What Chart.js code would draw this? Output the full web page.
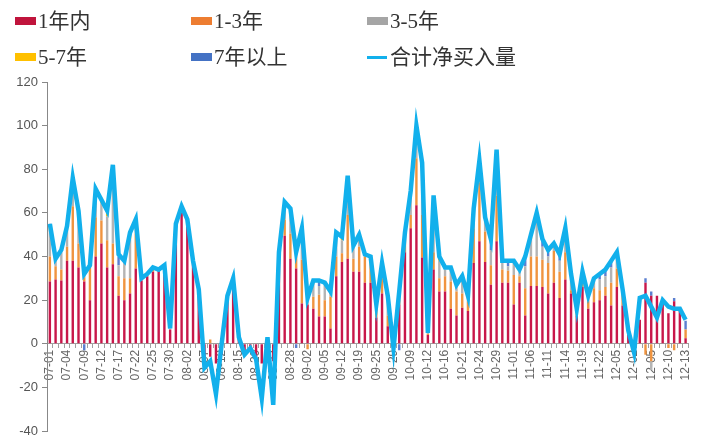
<!DOCTYPE html>
<html>
<head>
<meta charset="utf-8">
<script src="https://cdn.jsdelivr.net/npm/chart.js@4.4.0/dist/chart.umd.min.js"></script>
<style>
  body { margin: 0; background: #fff; }
  #caja { position: relative; width: 702px; height: 446px; }
  #grafico { position: absolute; left: 0; top: 0; }
  .ley { position: absolute; font-family: "Liberation Serif", "Noto Sans CJK SC", serif; font-size: 21px; color: #333; line-height: 22px; white-space: nowrap; }
  .cuadro { position: absolute; width: 21px; height: 8px; }
  .linea { position: absolute; width: 20px; height: 3px; }
</style>
</head>
<body>
<div id="caja">
  <canvas id="grafico" width="702" height="446"></canvas>
  <div class="cuadro" style="left:15px;top:17px;background:#C0143C"></div>
  <div class="ley" style="left:38px;top:10px">1年内</div>
  <div class="cuadro" style="left:191px;top:17px;background:#ED7D31"></div>
  <div class="ley" style="left:214px;top:10px">1-3年</div>
  <div class="cuadro" style="left:367px;top:17px;background:#A5A5A5"></div>
  <div class="ley" style="left:390px;top:10px">3-5年</div>
  <div class="cuadro" style="left:15px;top:53px;background:#FFC000"></div>
  <div class="ley" style="left:38px;top:46px">5-7年</div>
  <div class="cuadro" style="left:191px;top:53px;background:#4472C4"></div>
  <div class="ley" style="left:214px;top:46px">7年以上</div>
  <div class="linea" style="left:367px;top:56px;background:#12B0EC"></div>
  <div class="ley" style="left:390px;top:46px">合计净买入量</div>
</div>
<script>
// Fechas (días hábiles)
const fechas = [
  '07-01','07-02','07-03', '07-04','07-05','07-08', '07-09','07-10','07-11', '07-12','07-15','07-16',
  '07-17','07-18','07-19', '07-22','07-23','07-24', '07-25','07-26','07-29', '07-30','07-31','08-01',
  '08-02','08-05','08-06', '08-07','08-08','08-09', '08-12','08-13','08-14', '08-15','08-16','08-19',
  '08-20','08-21','08-22', '08-23','08-26','08-27', '08-28','08-29','08-30', '09-02','09-03','09-04',
  '09-05','09-09','09-11', '09-12','09-17','09-18', '09-19','09-20','09-24', '09-25','09-26','09-27',
  '09-29','09-30','10-08', '10-09','10-10','10-11', '10-12','10-14','10-15', '10-16','10-17','10-18',
  '10-21','10-22','10-23', '10-24','10-25','10-28', '10-29','10-30','10-31', '11-01','11-04','11-05',
  '11-06','11-07','11-08', '11-11','11-12','11-13', '11-14','11-15','11-18', '11-19','11-20','11-21',
  '11-22','11-25','11-26', '12-05','11-28','11-29', '12-02','12-03','12-04', '12-05','12-06','12-09',
  '12-10','12-11','12-12', '12-13'
];

// Series por plazo
const unAnio = [
  28.5, 29.5, 29, 38, 38, 35, 28.5, 20, 40, 46,
  35, 36.5, 22, 20, 23, 34.5, 29, 31, 33, 33.5,
  32, 6.5, 52, 60, 55, 37, 23, -8, -6, -9,
  -5, 20, 28, 3, -4, -3, -6, -9, -4, -8,
  42, 49.5, 39, 34.5, 18.5, 18, 16, 12.5, 12.5, 7,
  31, 37.5, 39, 33, 33, 28, 28, 12, 23, 8,
  -1, 18, 42, 53, 63.5, 39.5, 4, 34, 24, 24,
  16, 13, 16.5, 15, 37, 47, 37.5, 27, 47, 28,
  28, 18, 28, 13, 26.5, 26.5, 26, 23, 28, 21,
  29.5, 23, 13, 26, 16, 19, 20, 22, 17.5, 26,
  17.5, 5.5, -1, 11, 28, 22, 22, 20.5, 14, 19.5,
  15.5, 2.5
];
const unoTres = [
  11.5, 6, 5, 6.5, 25, 11, 2, 15.5, 18, 10.5,
  12.5, 9.5, 9, 10, 7, 16, 1, 1, 1, 0.5,
  1.5, 0, 2, 2, 1, 0.5, 1, 0, 2, 0,
  0, 1.5, 1.5, 0, 0, 0, 0, 0, 0, 0,
  0, 7.5, 11.5, 5.5, 20, -2.5, 5.5, 10, 7.5, 14.5,
  9, 4, 20, 6, 11.5, 12, 10.5, 4, 7, 5,
  0, 5, 6, 6, 21.5, 19.5, 0.5, 8, 6, 7,
  12.5, 11, 6.5, 4.5, 16, 27, 14, 9, 21, 6,
  5.5, 13.5, 3, 12.5, 13.5, 13.5, 12.5, 14, 14.5, 12,
  12.5, 1.5, 1.5, 2.5, 3.5, 6.5, 4.5, 4, 10.5, 8.5,
  5.5, 0.5, 0, 0, -5, -8, 0, 0, -2, -3,
  0, 4
];
const tresCinco = [
  12, 3, 8, 8, 11, 13, 1.5, 0.5, 11, 8,
  11, 28, 5, 7, 18, 5, 0, 0, 1, 0,
  2, 0.5, 1, 1, 1, 0.5, 1, 0, 0, 0,
  0, 0, 0, 0, 0, 0, 0, 0, 0, 0,
  0, 7, 10, 2, 12, 5, 6, 4, 7, 2,
  9, 6, 15, 5, 5, 1, 1, 2, 6, 8,
  0, 1, 3, 9, 12, 20, 0.5, 22, 8, 3,
  5, 2, 7, 2, 8, 8, 5, 7, 18, 3,
  2, 6, 2, 10, 8, 18, 6, 3, 3, 5,
  9, 6, 1, 3, 2, 4, 5, 5, 7, 6,
  2, 0, 0, 0, 0, -4, 0, 0, 0, 0,
  0, 0
];
const cincoSiete = [
  2, 0, 0, 1, 2, 1, 0, 0, 1.5, 1,
  1.5, 2, 0, 0, 2, 1, 0, 0, 0, 0,
  0, 0, 0, 0, 0, 0, 0, 0, 0, 0,
  0, 0, 0, 0, 0, 0, 0, 0, 0, 0,
  0, 1, 1, 0, 2, 0, 1, 0, 1, 0,
  1.5, 1, 2, 0, 0, 0, 0, 0, 0, 0,
  0, 0, 0, 1.5, 2, 2, 0, 2, 1, 0,
  1, 0, 0, 0, 0, 1, 0, 0, 2, 0,
  0, 0, 0, 0, 1, 1, 0, 0, 0, 0,
  1, 1, 0, 1, 0, 0, 0, 0, 0, 1,
  0, 0, 0, 0, 0, 0, 0, 0, 0, 0,
  0, 0
];
const sieteMas = [
  1, 0, 0, 0, 0, 0, -3, 0, 0, 0,
  0, 5, 4, 0, 0, 0, 0, 0, 0, 0,
  0, 0, 0, 0, 0, 0, 0, 0, 0, 0,
  0, 0, 0, 0, 0, 0, 0, 0, 0, 0,
  0, 0, 0, -2, 0, 0, 0, 2, 0, 0,
  0, 0, 0, 0, 0, 0, 0, 0, 0, 0,
  0, -3, 0, 0, 0, 0, 0, 0, 0, 0,
  0, 0, 0, 0, 0, 0, 0, 4, 0, 0,
  2, 0, 0, 4, 0, 0, 3, 3, 0, 3,
  0, 0, 0, 0, 0, 0, 2, 3, 3, 0,
  0, 0, 0, 0, 2, 2, 0, 0, 0, 1.5,
  0, 4
];
// Total neto comprado (línea)
const totalNeto = [
  55, 39, 43, 54, 76, 61, 32, 36, 71, 66,
  61, 82, 41, 38, 51, 57, 30, 32, 35, 34,
  36, 7, 55, 63, 57, 38, 25, -11, -8, -23,
  0, 22, 30, 3, -5, -2, -7, -25, 3, -28,
  42, 65, 62, 42, 53, 21, 29, 29, 28, 24,
  51, 49, 77, 45, 50, 41, 40, 18, 37, 22,
  -2, 24, 51, 70, 100, 83, 5, 68, 40, 35,
  35, 27, 31, 22, 62, 84, 58, 48, 89, 38,
  38, 38, 34, 40, 50, 60, 48, 43, 46, 41,
  53, 32, 16, 33, 22, 30, 32, 34, 38, 42,
  25, 6, -4, 21, 22, 17, 12, 20, 17, 16,
  16, 11
];

const ticksY = [-40, -20, 0, 20, 40, 60, 80, 100, 120];

function barra(nombre, datos, color) {
  return {
    type: 'bar',
    label: nombre,
    data: datos,
    backgroundColor: color,
    borderWidth: 0,
    barPercentage: 0.42,
    categoryPercentage: 1,
    stack: 's',
    order: 1
  };
}

function crearGrafico() {
  const ctx = document.getElementById('grafico').getContext('2d');
  new Chart(ctx, {
    type: 'bar',
    data: {
      labels: fechas,
      datasets: [
        {
          type: 'line',
          label: '合计净买入量',
          data: totalNeto,
          borderColor: '#12B0EC',
          borderWidth: 4.5,
          pointRadius: 0,
          tension: 0,
          fill: false,
          order: 0
        },
        barra('1年内', unAnio, '#C8174A'),
        barra('1-3年', unoTres, '#F0943F'),
        barra('3-5年', tresCinco, '#B4B4B4'),
        barra('5-7年', cincoSiete, '#FFC000'),
        barra('7年以上', sieteMas, '#5B7FD0')
      ]
    },
    options: {
      responsive: false,
      animation: false,
      layout: { padding: { top: 82, bottom: 15, left: 0, right: 2 } },
      plugins: { legend: { display: false }, tooltip: { enabled: false } },
      scales: {
        x: {
          position: { y: 0 },
          stacked: true,
          offset: true,
          grid: { drawOnChartArea: false, offset: true, tickLength: 4, color: '#A0A0A0' },
          border: { color: '#A0A0A0' },
          ticks: {
            autoSkip: false,
            minRotation: 90,
            maxRotation: 90,
            padding: 2,
            color: '#666',
            font: { family: 'Liberation Sans', size: 12 },
            callback: (v, i) => (i % 3 === 0 ? fechas[i] : '')
          }
        },
        y: {
          stacked: true,
          min: ticksY[0],
          max: ticksY[ticksY.length - 1],
          afterFit: (s) => { s.width = 47; },
          afterBuildTicks: (s) => { s.ticks = ticksY.map(v => ({ value: v })); },
          grid: { drawOnChartArea: false, tickLength: 5, color: '#888' },
          border: { color: '#888' },
          ticks: {
            color: '#555',
            padding: 4,
            font: { family: 'Liberation Sans', size: 13 }
          }
        }
      }
    }
  });
}

window.addEventListener('load', crearGrafico);
</script>
</body>
</html>
